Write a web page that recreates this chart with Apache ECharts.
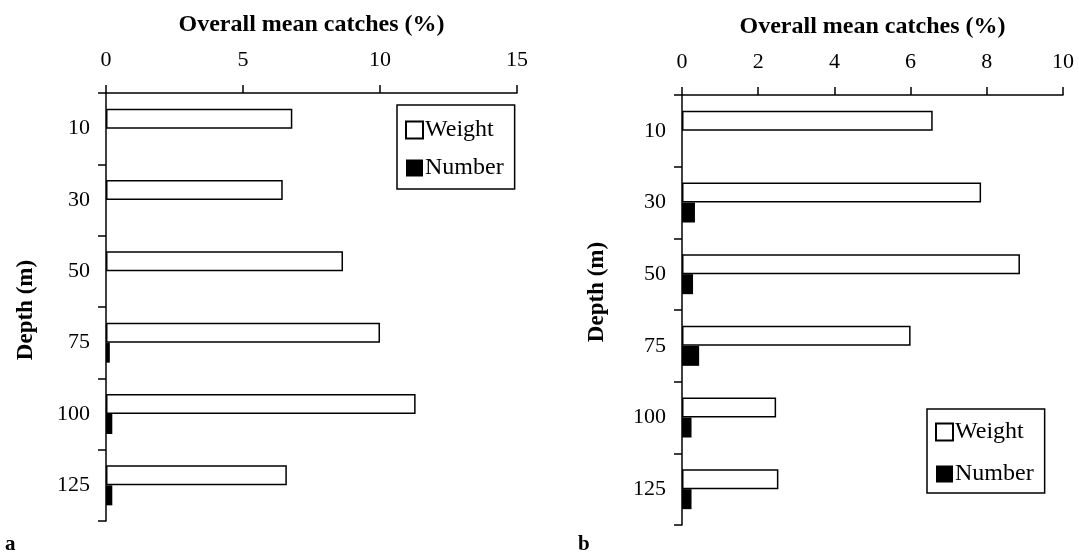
<!DOCTYPE html>
<html>
<head>
<meta charset="utf-8">
<script src="https://cdn.jsdelivr.net/npm/echarts@6/dist/echarts.min.js"></script>
<style>
  html, body { margin: 0; padding: 0; background: #fff; }
  #chart { width: 1079px; height: 556px; }
</style>
</head>
<body>
<div id="chart"></div>
<script>
// depth classes (m)
const depths = ['10', '30', '50', '75', '100', '125'];
// panel a
const weightA = [6.8, 6.45, 8.65, 10.0, 11.3, 6.6];
const numberA = [0, 0, 0, 0.14, 0.23, 0.23];
// panel b
const weightB = [6.58, 7.85, 8.87, 6.0, 2.47, 2.53];
const numberB = [0, 0.34, 0.29, 0.45, 0.25, 0.25];

const font = 'Liberation Serif';
const chart = echarts.init(document.getElementById('chart'));

function xAxisFor(grid, max, interval) {
  return {
    gridIndex: grid, type: 'value', position: 'top', min: 0, max: max, interval: interval,
    name: 'Overall mean catches (%)', nameLocation: 'middle', nameGap: 56,
    nameTextStyle: { fontFamily: font, fontSize: 24, fontWeight: 'bold', color: '#000' },
    axisLine: { show: true, lineStyle: { color: '#000', width: 1.5 } },
    axisTick: { show: true, inside: false, length: 8, lineStyle: { color: '#000', width: 1.5 } },
    axisLabel: { fontFamily: font, fontSize: 22, color: '#000', margin: 22 },
    splitLine: { show: false }
  };
}
function yAxisFor(grid) {
  return {
    gridIndex: grid, type: 'category', data: depths, inverse: true,
    axisLine: { show: true, lineStyle: { color: '#000', width: 1.5 } },
    axisTick: { show: true, length: 8, lineStyle: { color: '#000', width: 1.5 } },
    axisLabel: { fontFamily: font, fontSize: 22, color: '#000', margin: 16 },
    splitLine: { show: false }
  };
}
const weightStyle = { color: '#fff', borderColor: '#000', borderWidth: 1.5 };
const numberStyle = { color: '#000' };

function legendAt(left, top, pad, gap) {
  return {
    left: left, top: top, orient: 'vertical', data: ['Weight', 'Number'],
    borderColor: '#000', borderWidth: 1.5, padding: pad,
    itemWidth: 17, itemHeight: 17, itemGap: gap, icon: 'rect',
    textStyle: { fontFamily: font, fontSize: 24, color: '#000', padding: [0, 0, 0, -3] },
    selectedMode: false
  };
}
function depthName(x, y) {
  return { type: 'text', x: x, y: y, rotation: Math.PI / 2,
    style: { text: 'Depth (m)', font: 'bold 23px "Liberation Serif"', fill: '#000', align: 'center', verticalAlign: 'middle' } };
}

chart.setOption({
  animation: false,
  grid: [
    { left: 106, top: 93, width: 411, height: 428 },
    { left: 682, top: 95, width: 381, height: 430 }
  ],
  xAxis: [xAxisFor(0, 15, 5), xAxisFor(1, 10, 2)],
  yAxis: [yAxisFor(0), yAxisFor(1)],
  legend: [legendAt(397, 105, [13, 11, 9, 8], 14), legendAt(927, 409, [11, 11, 7, 8], 18)],
  series: [
    { name: 'Weight', type: 'bar', xAxisIndex: 0, yAxisIndex: 0, data: weightA, barWidth: 20, barGap: 0, itemStyle: weightStyle },
    { name: 'Number', type: 'bar', xAxisIndex: 0, yAxisIndex: 0, data: numberA, barWidth: 20, barGap: 0, itemStyle: numberStyle },
    { name: 'Weight', type: 'bar', xAxisIndex: 1, yAxisIndex: 1, data: weightB, barWidth: 20, barGap: 0, itemStyle: weightStyle },
    { name: 'Number', type: 'bar', xAxisIndex: 1, yAxisIndex: 1, data: numberB, barWidth: 20, barGap: 0, itemStyle: numberStyle }
  ],
  graphic: [
    depthName(26, 310),
    depthName(597, 292),
    { type: 'text', left: 5, top: 534, style: { text: 'a', font: 'bold 21px "Liberation Serif"', fill: '#000' } },
    { type: 'text', left: 578, top: 534, style: { text: 'b', font: 'bold 21px "Liberation Serif"', fill: '#000' } }
  ]
});
</script>
</body>
</html>
